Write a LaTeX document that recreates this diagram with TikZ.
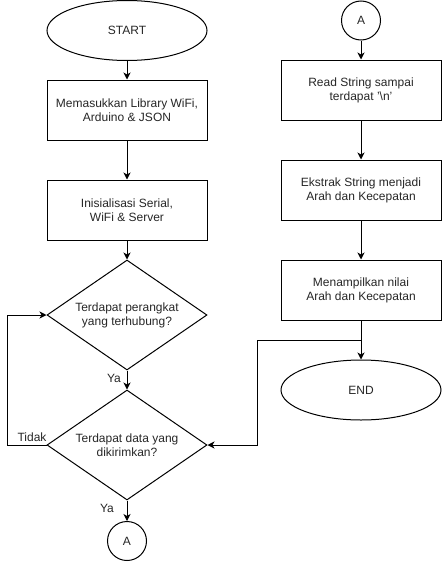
\documentclass[tikz,border=0pt]{standalone}
\usepackage{fontspec}
\setmainfont{Liberation Sans}
\usetikzlibrary{shapes.geometric,arrows.meta}
\begin{document}
\begin{tikzpicture}[x=1pt,y=-1pt,
  font=\fontsize{12}{14}\selectfont,
  line width=1pt,
  proc/.style={draw,rectangle,minimum width=160pt,minimum height=60pt,inner sep=0pt,align=center,text=black!85},
  term/.style={draw,ellipse,minimum width=160pt,minimum height=60pt,inner sep=0pt,align=center,text=black!85},
  dec/.style={draw,diamond,aspect=1.4545,minimum width=160pt,minimum height=110pt,inner sep=0pt,align=center,text=black!85},
  conn/.style={draw,circle,minimum size=39pt,inner sep=0pt,text=black!85},
  lbl/.style={text=black!85,inner sep=0pt},
  arr/.style={-{Stealth[length=7pt,width=7pt,inset=2pt]}}]
\useasboundingbox (0,0) rectangle (443,562);
% left column
\node[term] (start) at (127,30.5) {START};
\node[proc] (b1) at (127,110) {Memasukkan Library WiFi,\\Arduino \& JSON};
\node[proc] (b2) at (127,210) {Inisialisasi Serial,\\WiFi \& Server};
\node[dec] (d1) at (127,315) {Terdapat perangkat\\yang terhubung?};
\node[dec] (d2) at (127,445) {Terdapat data yang\\dikirimkan?};
\node[conn] (a1) at (127,541) {A};
% right column
\node[conn] (a2) at (361,20.5) {A};
\node[proc] (b3) at (361,90) {Read String sampai\\terdapat '\textbackslash n'};
\node[proc] (b4) at (361,190) {Ekstrak String menjadi\\Arah dan Kecepatan};
\node[proc] (b5) at (361,290) {Menampilkan nilai\\Arah dan Kecepatan};
\node[term] (end) at (361,390) {END};
\coordinate (j) at (361,340);
\coordinate (k) at (257.5,340);
\coordinate (l) at (7.5,445);
% connectors
\draw[arr] (start) -- (b1);
\draw[arr] (b1) -- (b2);
\draw[arr] (b2) -- (d1);
\draw[arr] (d1) -- (d2);
\draw[arr] (d2) -- (a1);
\draw[arr] (d2.west) -- (l) |- (d1.west);
\draw[arr] (a2) -- (b3);
\draw[arr] (b3) -- (b4);
\draw[arr] (b4) -- (b5);
\draw[arr] (b5) -- (end);
\draw[arr] (b5.south) -- (j) -- (k) |- (d2.east);
% labels
\node[lbl] (ya1) at (114,378) {Ya};
\node[lbl] (tidak) at (32,437) {Tidak};
\node[lbl] (ya2) at (107,508) {Ya};
\end{tikzpicture}
\end{document}
